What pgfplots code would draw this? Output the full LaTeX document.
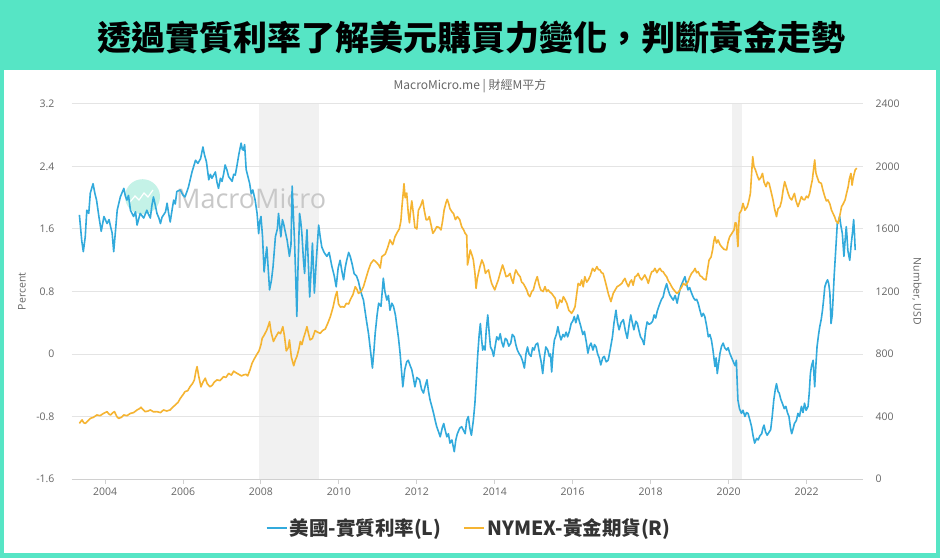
\documentclass[border=0pt]{standalone}
\usepackage{pgfplots}
\pgfplotsset{compat=1.18}
\usepackage{pgfplotstable}
\usepackage{fontspec}
\setmainfont{Open Sans}
\newfontfamily\cjk{Noto Sans CJK TC}
\definecolor{bannergreen}{RGB}{86,229,197}
\definecolor{realblue}{RGB}{50,170,220}
\definecolor{goldorange}{RGB}{245,180,50}
\definecolor{shadegray}{RGB}{241,241,241}
\definecolor{gridgray}{RGB}{228,228,228}
\definecolor{ticktext}{RGB}{102,102,102}
\definecolor{legtext}{RGB}{51,51,51}
\definecolor{wmteal}{RGB}{196,242,231}
\definecolor{wmgray}{RGB}{200,200,200}

\pgfplotstableread{
x y
2003.34 1.78
2003.40 1.45
2003.44 1.31
2003.49 1.50
2003.53 1.84
2003.58 1.80
2003.62 2.06
2003.69 2.18
2003.74 2.05
2003.78 1.97
2003.84 1.76
2003.90 1.57
2003.97 1.76
2004.05 1.67
2004.10 1.72
2004.14 1.63
2004.18 1.55
2004.22 1.31
2004.27 1.60
2004.31 1.84
2004.39 2.01
2004.48 2.12
2004.52 2.02
2004.56 1.97
2004.60 2.03
2004.65 1.84
2004.73 1.76
2004.78 1.82
2004.82 1.65
2004.90 1.80
2004.99 1.74
2005.07 1.84
2005.12 1.78
2005.16 1.74
2005.20 1.90
2005.24 2.01
2005.29 1.90
2005.33 1.80
2005.38 1.74
2005.42 1.67
2005.46 1.75
2005.50 1.78
2005.55 1.82
2005.59 1.93
2005.63 1.80
2005.67 1.69
2005.72 1.85
2005.76 1.97
2005.80 1.92
2005.84 2.08
2005.93 2.10
2005.99 2.04
2006.05 2.01
2006.10 2.08
2006.14 2.14
2006.23 2.33
2006.32 2.48
2006.38 2.44
2006.45 2.50
2006.51 2.65
2006.55 2.55
2006.60 2.46
2006.66 2.23
2006.70 2.30
2006.74 2.25
2006.83 2.33
2006.87 2.20
2006.91 2.12
2006.96 2.25
2007.00 2.21
2007.04 2.30
2007.08 2.42
2007.13 2.35
2007.17 2.27
2007.26 2.21
2007.30 2.30
2007.34 2.29
2007.38 2.40
2007.43 2.55
2007.49 2.70
2007.52 2.62
2007.55 2.61
2007.58 2.68
2007.62 2.36
2007.66 2.28
2007.71 2.18
2007.75 2.05
2007.79 2.10
2007.85 1.97
2007.90 1.80
2007.94 1.54
2007.97 1.70
2008.00 1.76
2008.04 1.50
2008.08 1.05
2008.12 1.25
2008.15 1.37
2008.22 0.82
2008.27 0.95
2008.31 1.12
2008.37 1.50
2008.42 1.60
2008.45 1.80
2008.48 1.65
2008.51 1.50
2008.55 1.72
2008.58 1.67
2008.63 1.55
2008.67 1.46
2008.73 1.25
2008.77 1.40
2008.80 2.15
2008.83 1.80
2008.86 1.46
2008.89 1.00
2008.92 0.48
2008.95 1.10
2008.99 1.80
2009.02 1.70
2009.05 1.54
2009.09 1.20
2009.12 1.03
2009.15 1.35
2009.18 1.59
2009.22 1.10
2009.25 0.73
2009.29 1.10
2009.32 1.42
2009.35 1.05
2009.37 0.78
2009.42 1.20
2009.48 1.65
2009.52 1.50
2009.56 1.37
2009.62 1.30
2009.69 1.25
2009.75 1.30
2009.82 1.12
2009.88 1.00
2009.93 0.86
2009.98 1.10
2010.03 1.20
2010.08 1.05
2010.12 0.95
2010.16 1.10
2010.20 1.20
2010.25 1.30
2010.29 1.25
2010.34 1.15
2010.39 1.03
2010.45 1.00
2010.50 0.93
2010.56 0.80
2010.63 0.69
2010.70 0.45
2010.76 0.26
2010.82 0.00
2010.86 -0.18
2010.90 0.05
2010.93 0.26
2010.98 0.50
2011.02 0.65
2011.08 0.61
2011.14 0.97
2011.18 0.80
2011.23 0.69
2011.27 0.75
2011.31 0.56
2011.36 0.65
2011.40 0.61
2011.45 0.50
2011.49 0.35
2011.53 0.20
2011.57 0.01
2011.64 -0.42
2011.69 -0.20
2011.74 -0.10
2011.78 -0.08
2011.83 -0.15
2011.87 -0.20
2011.91 -0.30
2011.95 -0.42
2012.00 -0.30
2012.07 -0.33
2012.12 -0.45
2012.17 -0.50
2012.22 -0.40
2012.26 -0.33
2012.30 -0.48
2012.34 -0.59
2012.40 -0.70
2012.43 -0.76
2012.47 -0.85
2012.51 -0.93
2012.56 -1.00
2012.60 -1.06
2012.65 -0.95
2012.69 -0.89
2012.73 -0.98
2012.77 -1.06
2012.81 -1.02
2012.85 -1.14
2012.90 -1.10
2012.96 -1.25
2013.00 -1.10
2013.04 -1.02
2013.10 -0.95
2013.15 -0.93
2013.20 -0.98
2013.24 -1.02
2013.28 -0.85
2013.32 -0.80
2013.36 -0.95
2013.40 -1.04
2013.45 -0.85
2013.49 -0.63
2013.53 -0.30
2013.56 -0.03
2013.60 0.25
2013.63 0.39
2013.66 0.20
2013.69 0.05
2013.72 0.10
2013.75 0.05
2013.78 0.30
2013.82 0.50
2013.86 0.25
2013.89 0.09
2013.93 0.05
2013.97 -0.03
2014.01 0.10
2014.05 0.22
2014.10 0.18
2014.14 0.26
2014.18 0.15
2014.22 0.09
2014.27 0.20
2014.31 0.18
2014.36 0.10
2014.41 0.14
2014.45 0.25
2014.50 0.22
2014.54 0.12
2014.58 0.05
2014.63 0.00
2014.67 -0.03
2014.72 -0.10
2014.76 -0.18
2014.80 0.00
2014.84 0.09
2014.88 0.00
2014.93 -0.03
2014.97 0.08
2015.01 0.05
2015.05 0.12
2015.10 0.14
2015.15 0.00
2015.19 -0.10
2015.23 -0.25
2015.27 -0.05
2015.31 0.09
2015.36 0.05
2015.40 -0.03
2015.43 0.00
2015.46 -0.23
2015.50 0.05
2015.53 0.18
2015.58 0.25
2015.62 0.35
2015.66 0.25
2015.70 0.18
2015.75 0.25
2015.79 0.22
2015.83 0.28
2015.87 0.22
2015.92 0.30
2015.96 0.39
2016.00 0.42
2016.04 0.48
2016.08 0.40
2016.13 0.50
2016.17 0.42
2016.21 0.35
2016.26 0.25
2016.30 0.29
2016.35 0.15
2016.39 0.01
2016.43 0.10
2016.47 0.14
2016.52 0.05
2016.56 0.12
2016.60 0.09
2016.64 0.00
2016.68 -0.05
2016.72 -0.14
2016.77 -0.05
2016.81 -0.03
2016.86 -0.10
2016.91 -0.08
2016.96 0.05
2017.02 0.22
2017.06 0.40
2017.11 0.56
2017.15 0.40
2017.19 0.31
2017.24 0.40
2017.30 0.44
2017.35 0.30
2017.40 0.20
2017.45 0.38
2017.49 0.50
2017.53 0.40
2017.57 0.31
2017.62 0.42
2017.66 0.39
2017.70 0.30
2017.74 0.22
2017.79 0.18
2017.83 0.12
2017.87 0.30
2017.91 0.41
2017.96 0.38
2018.00 0.39
2018.05 0.42
2018.09 0.50
2018.13 0.46
2018.17 0.55
2018.21 0.61
2018.24 0.65
2018.28 0.70
2018.32 0.73
2018.36 0.82
2018.41 0.90
2018.45 0.82
2018.49 0.76
2018.54 0.72
2018.58 0.69
2018.63 0.75
2018.68 0.65
2018.72 0.75
2018.77 0.86
2018.82 0.92
2018.88 0.99
2018.92 0.90
2018.96 0.82
2019.00 0.85
2019.05 0.78
2019.10 0.72
2019.14 0.69
2019.18 0.70
2019.22 0.65
2019.27 0.55
2019.31 0.48
2019.35 0.52
2019.39 0.48
2019.44 0.35
2019.48 0.22
2019.52 0.25
2019.56 0.18
2019.60 0.05
2019.65 -0.16
2019.68 -0.05
2019.71 -0.25
2019.75 -0.10
2019.78 0.01
2019.82 0.10
2019.86 0.14
2019.90 0.08
2019.95 0.05
2019.99 0.08
2020.03 0.01
2020.08 -0.05
2020.14 -0.12
2020.17 -0.15
2020.20 -0.08
2020.22 -0.35
2020.24 -0.59
2020.28 -0.70
2020.33 -0.76
2020.37 -0.72
2020.42 -0.80
2020.46 -0.75
2020.50 -0.76
2020.55 -0.85
2020.59 -0.93
2020.63 -1.05
2020.67 -1.14
2020.72 -1.08
2020.76 -1.10
2020.80 -1.05
2020.85 -1.02
2020.88 -0.95
2020.91 -0.91
2020.95 -1.00
2020.99 -1.04
2021.04 -1.00
2021.08 -0.97
2021.12 -0.80
2021.16 -0.59
2021.20 -0.45
2021.23 -0.38
2021.27 -0.48
2021.30 -0.50
2021.34 -0.58
2021.38 -0.63
2021.43 -0.70
2021.47 -0.67
2021.51 -0.75
2021.55 -0.80
2021.59 -0.95
2021.62 -1.02
2021.66 -0.95
2021.69 -0.89
2021.74 -0.85
2021.78 -0.76
2021.82 -0.80
2021.87 -0.67
2021.91 -0.75
2021.95 -0.63
2021.99 -0.72
2022.04 -0.67
2022.07 -0.50
2022.10 -0.25
2022.13 -0.15
2022.17 -0.08
2022.21 -0.42
2022.24 -0.15
2022.27 0.09
2022.31 0.25
2022.34 0.35
2022.38 0.45
2022.41 0.56
2022.44 0.70
2022.47 0.86
2022.51 0.92
2022.54 0.95
2022.57 0.90
2022.60 0.78
2022.63 0.39
2022.66 0.50
2022.68 0.69
2022.71 1.00
2022.74 1.25
2022.77 1.50
2022.79 1.67
2022.82 1.70
2022.85 1.76
2022.88 1.65
2022.92 1.54
2022.96 1.25
2022.99 1.45
2023.02 1.63
2023.04 1.50
2023.06 1.33
2023.09 1.25
2023.11 1.20
2023.15 1.42
2023.18 1.55
2023.21 1.72
2023.23 1.55
2023.25 1.33
}\realrate

\pgfplotstableread{
x y
2003.34 356
2003.38 370
2003.41 378
2003.45 360
2003.49 356
2003.55 370
2003.62 388
2003.70 395
2003.79 410
2003.87 405
2003.96 420
2004.05 431
2004.10 415
2004.14 410
2004.20 425
2004.24 431
2004.30 400
2004.35 388
2004.42 395
2004.48 410
2004.56 405
2004.65 420
2004.73 425
2004.82 442
2004.88 450
2004.92 459
2004.97 445
2005.03 431
2005.10 435
2005.16 442
2005.24 430
2005.33 431
2005.42 425
2005.50 442
2005.58 435
2005.67 442
2005.74 460
2005.80 474
2005.87 490
2005.93 516
2006.00 540
2006.05 559
2006.12 565
2006.18 591
2006.24 610
2006.29 634
2006.33 690
2006.36 719
2006.40 660
2006.46 590
2006.51 620
2006.57 645
2006.62 610
2006.69 590
2006.75 600
2006.80 620
2006.87 634
2006.95 630
2007.04 655
2007.10 650
2007.17 676
2007.24 665
2007.30 690
2007.36 680
2007.43 670
2007.50 660
2007.55 666
2007.62 670
2007.66 660
2007.72 700
2007.77 740
2007.83 770
2007.90 800
2007.95 820
2008.00 860
2008.03 900
2008.08 920
2008.15 954
2008.20 990
2008.22 1007
2008.26 940
2008.32 880
2008.38 910
2008.45 940
2008.50 930
2008.56 975
2008.60 920
2008.65 820
2008.70 840
2008.73 890
2008.78 780
2008.84 725
2008.88 760
2008.92 783
2008.97 830
2009.01 880
2009.05 860
2009.09 900
2009.14 940
2009.18 975
2009.22 930
2009.26 890
2009.32 900
2009.39 950
2009.45 940
2009.52 932
2009.58 950
2009.65 960
2009.72 1000
2009.78 1039
2009.85 1100
2009.91 1170
2009.95 1200
2009.99 1120
2010.04 1100
2010.08 1103
2010.14 1100
2010.19 1124
2010.25 1120
2010.29 1146
2010.36 1180
2010.42 1231
2010.47 1210
2010.50 1188
2010.57 1200
2010.63 1231
2010.70 1290
2010.76 1340
2010.82 1380
2010.89 1402
2010.95 1390
2011.02 1370
2011.06 1350
2011.10 1423
2011.19 1440
2011.25 1480
2011.31 1530
2011.38 1500
2011.44 1551
2011.50 1580
2011.55 1600
2011.59 1650
2011.62 1750
2011.65 1830
2011.67 1890
2011.70 1800
2011.74 1830
2011.78 1700
2011.81 1640
2011.84 1720
2011.87 1780
2011.91 1700
2011.95 1610
2012.00 1600
2012.04 1720
2012.10 1750
2012.15 1786
2012.19 1720
2012.24 1658
2012.28 1660
2012.32 1679
2012.37 1620
2012.41 1572
2012.46 1590
2012.51 1615
2012.57 1610
2012.62 1594
2012.66 1650
2012.70 1722
2012.75 1770
2012.78 1790
2012.82 1760
2012.85 1730
2012.90 1710
2012.94 1700
2012.99 1660
2013.04 1679
2013.10 1660
2013.15 1615
2013.20 1595
2013.24 1572
2013.28 1560
2013.30 1370
2013.34 1420
2013.37 1466
2013.42 1430
2013.45 1402
2013.49 1320
2013.52 1220
2013.55 1280
2013.58 1316
2013.62 1360
2013.67 1402
2013.72 1370
2013.76 1316
2013.80 1330
2013.84 1338
2013.88 1290
2013.92 1252
2013.96 1230
2014.00 1210
2014.04 1240
2014.09 1274
2014.14 1320
2014.20 1370
2014.24 1340
2014.29 1295
2014.34 1300
2014.39 1316
2014.43 1280
2014.47 1252
2014.51 1310
2014.54 1338
2014.60 1310
2014.65 1295
2014.69 1260
2014.73 1252
2014.78 1230
2014.82 1210
2014.86 1180
2014.90 1167
2014.95 1200
2014.99 1210
2015.04 1260
2015.09 1295
2015.14 1240
2015.18 1210
2015.24 1200
2015.29 1231
2015.33 1200
2015.37 1210
2015.42 1195
2015.46 1188
2015.51 1170
2015.55 1157
2015.60 1092
2015.64 1120
2015.67 1146
2015.72 1130
2015.76 1167
2015.80 1150
2015.85 1124
2015.90 1080
2015.94 1070
2015.97 1060
2016.02 1080
2016.06 1103
2016.10 1180
2016.14 1252
2016.19 1240
2016.23 1274
2016.27 1230
2016.31 1295
2016.36 1260
2016.40 1274
2016.45 1300
2016.51 1348
2016.56 1330
2016.62 1359
2016.66 1340
2016.70 1338
2016.74 1320
2016.78 1316
2016.82 1280
2016.87 1231
2016.92 1180
2016.98 1135
2017.04 1188
2017.09 1210
2017.14 1231
2017.20 1240
2017.26 1252
2017.30 1270
2017.34 1284
2017.39 1250
2017.43 1231
2017.47 1260
2017.51 1274
2017.55 1240
2017.60 1295
2017.64 1300
2017.68 1316
2017.72 1290
2017.77 1274
2017.81 1290
2017.85 1306
2017.90 1280
2017.94 1252
2017.99 1300
2018.03 1327
2018.07 1330
2018.11 1348
2018.16 1320
2018.20 1338
2018.24 1348
2018.28 1330
2018.32 1327
2018.36 1310
2018.41 1295
2018.45 1270
2018.50 1250
2018.54 1231
2018.58 1215
2018.63 1200
2018.67 1188
2018.71 1195
2018.75 1210
2018.80 1230
2018.84 1252
2018.90 1240
2018.96 1263
2019.00 1290
2019.05 1316
2019.10 1330
2019.14 1348
2019.18 1320
2019.22 1327
2019.27 1300
2019.31 1295
2019.36 1280
2019.42 1274
2019.46 1340
2019.50 1402
2019.55 1420
2019.59 1466
2019.62 1520
2019.65 1551
2019.69 1510
2019.73 1530
2019.78 1500
2019.82 1487
2019.88 1470
2019.95 1466
2019.99 1520
2020.03 1551
2020.08 1570
2020.14 1594
2020.17 1640
2020.20 1637
2020.22 1550
2020.24 1487
2020.26 1620
2020.28 1700
2020.33 1720
2020.37 1764
2020.42 1720
2020.48 1743
2020.52 1780
2020.56 1828
2020.59 1950
2020.62 2063
2020.65 2000
2020.69 1978
2020.74 1940
2020.78 1914
2020.83 1930
2020.87 1956
2020.91 1900
2020.96 1871
2021.00 1900
2021.04 1892
2021.09 1840
2021.14 1786
2021.18 1730
2021.23 1679
2021.27 1730
2021.32 1743
2021.36 1780
2021.40 1850
2021.44 1903
2021.48 1870
2021.53 1828
2021.57 1800
2021.62 1786
2021.66 1810
2021.69 1828
2021.73 1780
2021.78 1743
2021.82 1770
2021.87 1807
2021.91 1790
2021.95 1786
2022.00 1810
2022.04 1800
2022.08 1828
2022.12 1880
2022.15 1914
2022.18 1980
2022.21 2042
2022.24 1960
2022.27 1935
2022.32 1900
2022.38 1892
2022.42 1850
2022.47 1807
2022.51 1780
2022.55 1786
2022.60 1760
2022.64 1722
2022.68 1700
2022.72 1679
2022.76 1650
2022.81 1637
2022.85 1680
2022.90 1743
2022.94 1760
2022.99 1786
2023.03 1830
2023.07 1871
2023.10 1920
2023.14 1956
2023.17 1880
2023.19 1914
2023.22 1950
2023.25 1978
2023.29 1990
}\gold

\pgfplotsset{
  base/.style={
    scale only axis, width=791pt, height=375pt,
    at={(72pt,79pt)}, anchor=south west,
    xmin=2003.15, xmax=2023.45,
    clip=true,
  },
}

\begin{document}
\begin{tikzpicture}
% background
\fill[bannergreen] (0,0) rectangle (940pt,558pt);
\fill[white] (4pt,5pt) rectangle (936pt,488pt);
% title
\node[font={\cjk\bfseries\fontsize{34}{36}\selectfont}, text=black] at (471pt,520pt) {透過實質利率了解美元購買力變化，判斷黃金走勢};
% subtitle
\node[font={\cjk\fontsize{12}{14}\selectfont}, text=ticktext] at (470pt,472pt) {MacroMicro.me | 財經M平方};

% recession shading
\begin{axis}[base, hide axis, ymin=-1.6, ymax=3.2]
\addplot[draw=none, fill=shadegray] coordinates {(2007.94,-1.6) (2007.94,3.2) (2009.50,3.2) (2009.50,-1.6)} -- cycle;
\addplot[draw=none, fill=shadegray] coordinates {(2020.10,-1.6) (2020.10,3.2) (2020.34,3.2) (2020.34,-1.6)} -- cycle;
\end{axis}

% watermark
\fill[wmteal] (142.5pt,361.3pt) circle (17.5pt);
\draw[white, line width=1.2pt] (130pt,356pt) -- (135pt,362pt) -- (139pt,358pt) -- (144pt,365pt) -- (148pt,361pt) -- (153pt,368pt);
\node[anchor=west, font={\fontsize{27}{29}\selectfont}, text=wmgray, inner sep=0pt] at (176pt,359pt) {MacroMicro};

% left axis: real rate
\begin{axis}[base,
  ymin=-1.6, ymax=3.2,
  ytick={-1.6,-0.8,0,0.8,1.6,2.4,3.2},
  yticklabels={-1.6,-0.8,0,0.8,1.6,2.4,3.2},
  xtick={2004,2006,2008,2010,2012,2014,2016,2018,2020,2022},
  xticklabels={2004,2006,2008,2010,2012,2014,2016,2018,2020,2022},
  axis x line*=bottom, axis y line*=left,
  y axis line style={draw=none},
  x axis line style={draw=gridgray!80!gray, line width=1pt},
  ytick style={draw=none},
  xtick style={draw=gridgray!80!gray, line width=1pt},
  tick align=outside, major tick length=5pt,
  ymajorgrids, grid style={draw=gridgray, line width=1pt},
  tick label style={font={\fontsize{10.5}{12}\selectfont}, text=ticktext},
  yticklabel style={xshift=-9pt},
  xticklabel style={yshift=0pt},
  ylabel={Percent},
  ylabel style={at={(axis description cs:-0.0632,0.5)}, anchor=center, font={\fontsize{10.5}{12}\selectfont}, text=ticktext},
]
\addplot[realblue, line width=1.6pt, line join=round] table[x=x, y=y] {\realrate};
\end{axis}

% right axis: gold
\begin{axis}[base,
  ymin=0, ymax=2400,
  ytick={0,400,800,1200,1600,2000,2400},
  yticklabels={0,400,800,1200,1600,2000,2400},
  axis y line*=right, axis x line=none,
  y axis line style={draw=none},
  ytick style={draw=none},
  tick label style={font={\fontsize{10.5}{12}\selectfont}, text=ticktext},
  yticklabel style={xshift=9pt},
  ylabel={Number, USD},
  ylabel style={at={(axis description cs:1.0683,0.5)}, anchor=center, rotate=180, font={\fontsize{10.5}{12}\selectfont}, text=ticktext},
  legend columns=2,
  legend style={at={(axis description cs:0.502,-0.1307)}, anchor=center, draw=none, fill=none,
    font={\cjk\bfseries\fontsize{19.5}{21}\selectfont}, text=legtext,
    /tikz/every even column/.append style={column sep=20pt}},
  legend image code/.code={\draw[#1, line width=2pt] (0pt,0pt) -- (20pt,0pt);},
]
\addlegendimage{realblue}
\addlegendentry{美國-實質利率(L)}
\addplot[goldorange, line width=1.6pt, line join=round] table[x=x, y=y] {\gold};
\addlegendentry{NYMEX-黃金期貨(R)}
\end{axis}

\pgfresetboundingbox
\useasboundingbox (0,0) rectangle (940pt,558pt);
\end{tikzpicture}
\end{document}
